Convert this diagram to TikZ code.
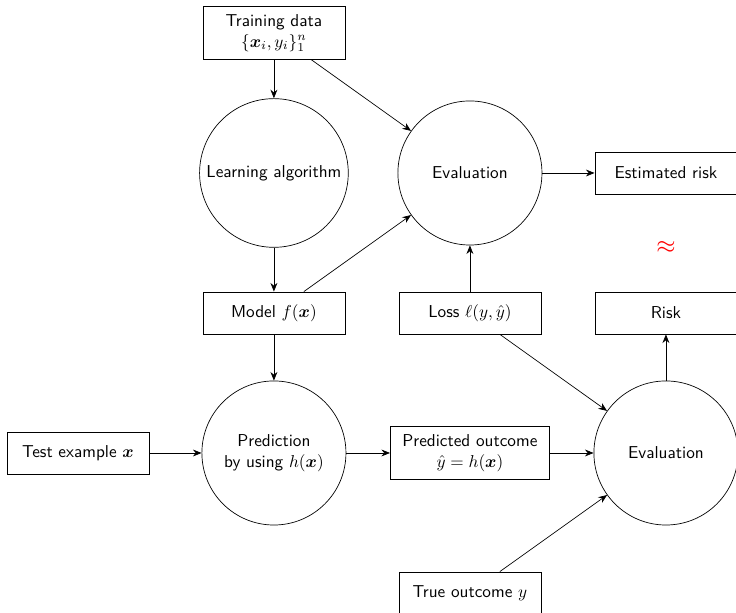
\documentclass[tikz,border=0pt]{standalone}
\usepackage{amsmath,bm}
\usetikzlibrary{arrows.meta,positioning,calc}

\begin{document}
\begin{tikzpicture}[font=\sffamily,node distance=2.857cm and 4cm,on grid,
  b/.style={draw,align=center,minimum width=2.9cm,minimum height=0.86cm,inner xsep=7pt,inner ysep=4.5pt},
  c/.style={draw,circle,align=center,minimum size=2.94cm},
  a/.style={-{Stealth[length=5pt,width=4pt]}}]
  \useasboundingbox (-5.59,3.53) rectangle (9.43,-8.96);
  \node[c] (learn) {Learning algorithm};
  \node[b,above=of learn] (train) {Training data\\$\{\bm{x}_i,y_i\}_1^n$};
  \node[b,below=of learn] (model) {Model $f(\bm{x})$};
  \node[c,below=of model] (pred) {Prediction\\by using $h(\bm{x})$};
  \node[b,left=of pred] (test) {Test example $\bm{x}$};
  \node[c,right=of learn] (eval1) {Evaluation};
  \node[b,right=of eval1] (est) {Estimated risk};
  \node[b,below=of eval1] (loss) {Loss $\ell(y,\hat{y})$};
  \node[b,right=of loss] (risk) {Risk};
  \node[b,right=of pred] (out) {Predicted outcome\\$\hat{y}=h(\bm{x})$};
  \node[c,right=of out] (eval2) {Evaluation};
  \node[b,below=of out] (true) {True outcome $y$};
  \node[red,font=\Large] (approx) at ($(est)!0.53!(risk)$) {$\approx$};
  \draw[a] (train) -- (learn);
  \draw[a] (train) -- (eval1);
  \draw[a] (learn) -- (model);
  \draw[a] (model) -- (eval1);
  \draw[a] (model) -- (pred);
  \draw[a] (test) -- (pred);
  \draw[a] (pred) -- (out);
  \draw[a] (out) -- (eval2);
  \draw[a] (loss) -- (eval1);
  \draw[a] (loss) -- (eval2);
  \draw[a] (true) -- (eval2);
  \draw[a] (eval1) -- (est);
  \draw[a] (eval2) -- (risk);
\end{tikzpicture}
\end{document}
